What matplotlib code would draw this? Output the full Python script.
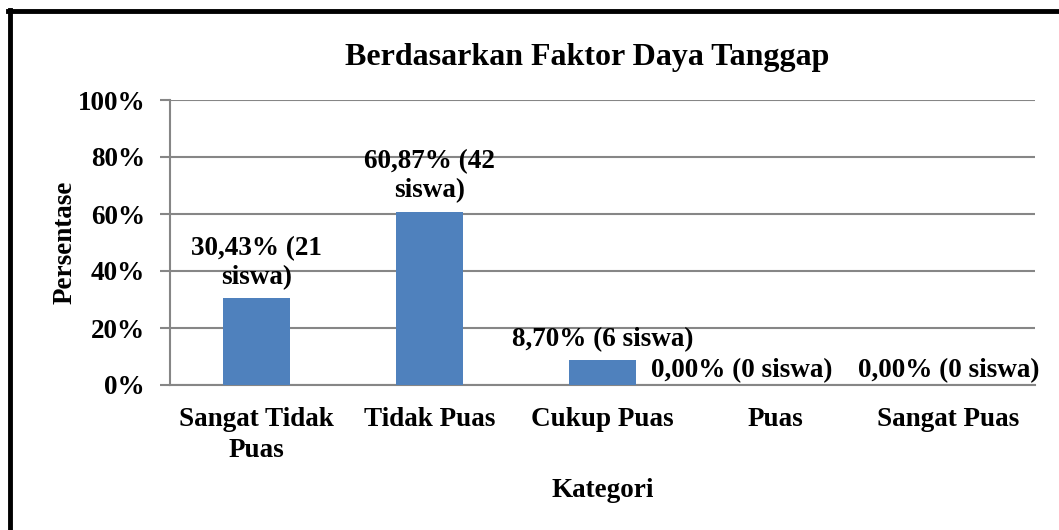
import matplotlib
matplotlib.use("Agg")
import matplotlib.pyplot as plt
from matplotlib.lines import Line2D

categories = ["Sangat Tidak\nPuas", "Tidak Puas", "Cukup Puas", "Puas", "Sangat Puas"]
percent = [30.43, 60.87, 8.70, 0.00, 0.00]
siswa = [21, 42, 6, 0, 0]
bar_labels = ["30,43% (21\nsiswa)", "60,87% (42\nsiswa)", "8,70% (6 siswa)",
              "0,00% (0 siswa)", "0,00% (0 siswa)"]
yticks = [0, 20, 40, 60, 80, 100]

plt.rcParams["font.family"] = ["Liberation Serif", "DejaVu Serif"]
plt.rcParams["font.weight"] = "bold"

BLUE = "#4F81BD"
GRID = "#868686"
FS = 19.5

fig = plt.figure(figsize=(10.59, 5.30), dpi=100)
ax = fig.add_axes([170 / 1059, 1 - 385 / 530, 865 / 1059, 285 / 530])

x = list(range(len(categories)))
ax.bar(x, percent, width=0.39, color=BLUE, zorder=3)
ax.set_xlim(-0.5, len(categories) - 0.5)
ax.set_ylim(0, 100)

ax.set_yticks(yticks)
ax.set_yticklabels([f"{v}%" for v in yticks], fontsize=FS, fontweight="bold")
ax.set_xticks(x)
ax.set_xticklabels(categories, fontsize=FS, fontweight="bold", linespacing=1.3)
ax.tick_params(axis="y", length=7, color=GRID, width=1.5, pad=11)
ax.tick_params(axis="x", length=0, pad=16)
ax.yaxis.grid(True, color=GRID, linewidth=1.5, zorder=0)

for side in ["top", "right"]:
    ax.spines[side].set_visible(False)
for side in ["left", "bottom"]:
    ax.spines[side].set_color(GRID)
    ax.spines[side].set_linewidth(1.5)

dx = [0, 0, 0, -24, 0]
dy = [6, 6, 6, 1, 1]
for i, (val, lab) in enumerate(zip(percent, bar_labels)):
    ax.annotate(lab, (i, val), xytext=(dx[i], dy[i]), textcoords="offset points",
                ha="center", va="bottom", fontsize=FS, fontweight="bold",
                linespacing=1.2, zorder=4)

ax.set_xlabel("Kategori", fontsize=FS, fontweight="bold", labelpad=11)
ax.set_ylabel("Persentase", fontsize=FS, fontweight="bold", labelpad=0)
fig.text(587 / 1059, 1 - 57 / 530, "Berdasarkan Faktor Daya Tanggap",
         ha="center", va="center", fontsize=23, fontweight="bold")

# black frame on top and left edges
fig.add_artist(Line2D([10 / 1059, 10 / 1059], [0, 1 - 10 / 530],
                      transform=fig.transFigure, color="black", linewidth=3.5))
fig.add_artist(Line2D([8 / 1059, 1], [1 - 11 / 530, 1 - 11 / 530],
                      transform=fig.transFigure, color="black", linewidth=3.5))

fig.savefig("out.png", dpi=100)
